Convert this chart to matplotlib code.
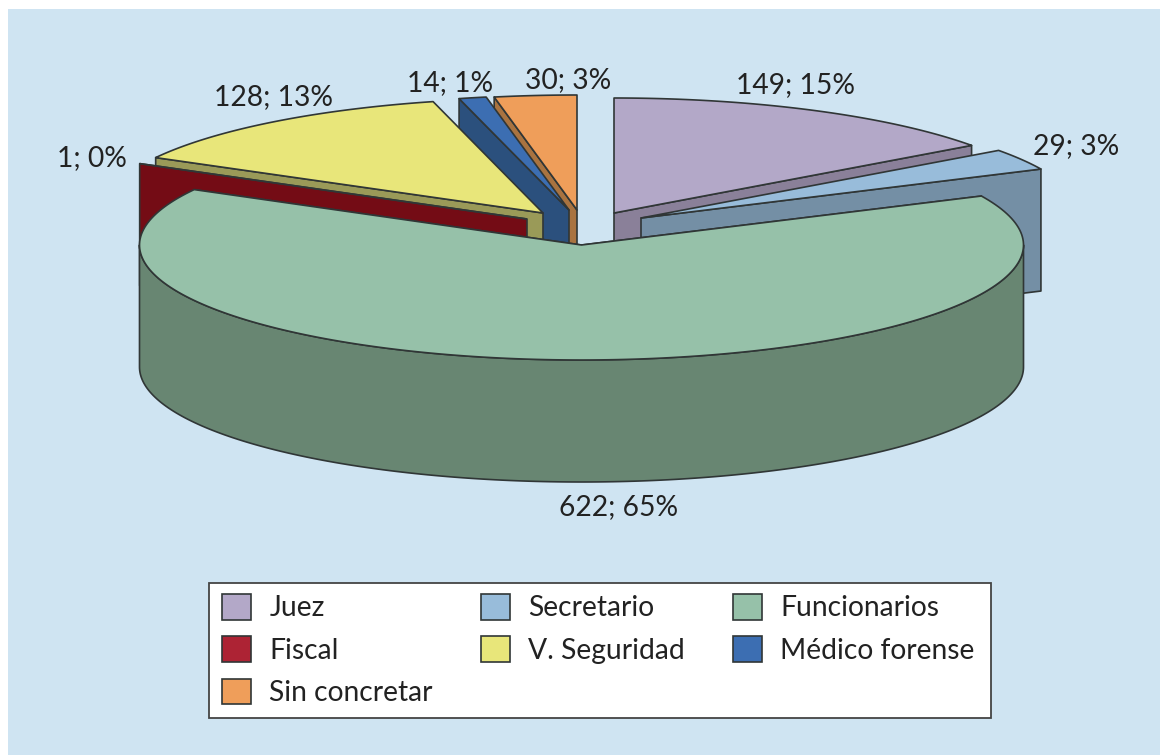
import numpy as np
import matplotlib
matplotlib.use("Agg")
import matplotlib.pyplot as plt
from matplotlib.patches import Polygon, Patch, Rectangle

# ---- data ----
categories = ["Juez", "Secretario", "Funcionarios", "Fiscal", "V. Seguridad", "Médico forense", "Sin concretar"]
counts = [149, 29, 622, 1, 128, 14, 30]
percents = [15, 3, 65, 0, 13, 1, 3]

# ---- style ----
top_colors = ["#B3A8C8", "#98BCDA", "#96C1A9", "#AD2334", "#E8E67A", "#3C6EB2", "#EF9E5A"]
side_colors = ["#8A8099", "#748FA5", "#688672", "#740C15", "#9A9A58", "#2B507D", "#A97340"]
apex_x = [614, 641, 581.5, 527, 543, 569, 577]
apex_y = [213, 218, 245, 219, 213, 210, 210]
label_x = [796, 1076, 619, 92, 274, 450, 568]
label_y = [85, 146, 507, 158, 97, 83, 80]
draw_order = [6, 0, 5, 1, 4, 3, 2]
RX, RY, DEPTH = 442, 115, 122
BG = "#CFE4F2"
EDGE = "#303636"
FONT = "Lato"
TEXT = "#222222"
LW = 1.2
FS = 20.3

fig = plt.figure(figsize=(11.6, 7.55), dpi=100, facecolor="white")
ax = fig.add_axes([0, 0, 1, 1])
ax.set_xlim(0, 1160)
ax.set_ylim(755, 0)
ax.axis("off")
ax.add_patch(Rectangle((8, 9), 1152, 746, fc=BG, ec="none", zorder=0))


def rim(cx, cy, deg):
    t = np.radians(deg)
    return cx + RX * np.sin(t), cy - RY * np.cos(t)


ends = np.cumsum(percents) * 3.6
starts = np.r_[0, ends[:-1]]
z = 1
for i in draw_order:
    cx, cy, a0, a1 = apex_x[i], apex_y[i], starts[i], ends[i]
    kw = dict(closed=True, ec=EDGE, lw=LW, joinstyle="round")
    face_angles = []
    if a1 > 180:
        face_angles.append(a0)
    if a0 < 180:
        face_angles.append(a1)
    for ang in face_angles:
        rx, ry = rim(cx, cy, ang)
        ax.add_patch(Polygon([(cx, cy), (rx, ry), (rx, ry + DEPTH), (cx, cy + DEPTH)],
                             fc=side_colors[i], zorder=z, **kw))
        z += 1
    lo, hi = max(a0, 90), min(a1, 270)
    if hi > lo:
        arc = np.linspace(lo, hi, 200)
        xs, ys = rim(cx, cy, arc)
        pts = np.r_[np.c_[xs, ys], np.c_[xs, ys + DEPTH][::-1]]
        ax.add_patch(Polygon(pts, fc=side_colors[i], zorder=z, **kw))
        z += 1
    arc = np.linspace(a0, a1, 200)
    xs, ys = rim(cx, cy, arc)
    pts = np.r_[[(cx, cy)], np.c_[xs, ys]]
    ax.add_patch(Polygon(pts, fc=top_colors[i], zorder=z, **kw))
    z += 1

for i, (c, p) in enumerate(zip(counts, percents)):
    ax.text(label_x[i], label_y[i], f"{c}; {p}%", ha="center", va="center",
            fontsize=FS, family=FONT, color=TEXT, zorder=50)

ax.add_patch(Rectangle((209, 583), 782, 135, fc="white", ec="#444444", lw=1.3, zorder=55))
handles = [Patch(fc=top_colors[i], ec=EDGE, lw=1.2) for i in range(len(categories))]
order = [0, 3, 6, 1, 4, 2, 5]
leg = ax.legend([handles[i] for i in order], [categories[i] for i in order], ncol=3,
                loc="lower left", bbox_to_anchor=(210 / 1160, 1 - 718 / 755, 781 / 1160, 135 / 755),
                mode=None, borderaxespad=0, frameon=False,
                prop={"family": FONT, "size": FS}, labelcolor=TEXT,
                handlelength=1.03, handleheight=1.03, handletextpad=0.66,
                columnspacing=1.69, labelspacing=0.525, borderpad=0.42)
leg.set_zorder(60)

fig.savefig("out.png", dpi=100, facecolor="white")
